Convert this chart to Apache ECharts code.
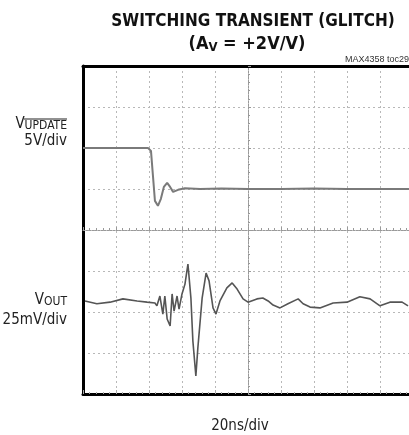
<!DOCTYPE html>
<html>
<head>
<meta charset="utf-8">
<script src="https://cdn.jsdelivr.net/npm/echarts@6/dist/echarts.min.js"></script>
<style>
html,body{margin:0;padding:0;background:#fff;}
#chart{width:409px;height:435px;}
</style>
</head>
<body>
<div id="chart"></div>
<script>
// time in divisions (20ns/div), amplitude in divisions
var vupdateT = [0, 1.97, 2.06, 2.12, 2.18, 2.27, 2.36, 2.45, 2.55, 2.64, 2.73, 2.88, 3.09, 3.55, 4.2, 5.0, 6.0, 7.0, 8.0, 9.0, 10.0];
var vupdateV = [2.0, 2.0, 1.93, 1.32, 0.71, 0.59, 0.76, 1.05, 1.15, 1.05, 0.93, 0.98, 1.02, 1.0, 1.01, 1.0, 1.0, 1.01, 1.0, 1.0, 1.0];

var voutT = [0.06, 0.42, 0.82, 1.21, 1.64, 1.94, 2.18, 2.24, 2.33, 2.42, 2.48, 2.55, 2.64, 2.70, 2.76, 2.85, 2.91, 3.00, 3.09, 3.18, 3.27, 3.33, 3.42, 3.48, 3.61, 3.73, 3.82, 3.94, 4.03, 4.15, 4.36, 4.52, 4.67, 4.85, 5.00, 5.27, 5.45, 5.61, 5.76, 5.97, 6.21, 6.52, 6.67, 6.88, 7.18, 7.58, 8.00, 8.39, 8.70, 9.00, 9.30, 9.67, 9.85];
var voutV = [-1.73, -1.80, -1.76, -1.68, -1.73, -1.76, -1.78, -1.85, -1.61, -2.05, -1.61, -2.17, -2.34, -1.56, -1.98, -1.61, -1.93, -1.56, -1.32, -0.83, -1.66, -2.71, -3.56, -2.88, -1.66, -1.05, -1.24, -1.90, -2.05, -1.73, -1.41, -1.29, -1.44, -1.68, -1.76, -1.68, -1.66, -1.73, -1.83, -1.90, -1.80, -1.68, -1.80, -1.88, -1.90, -1.78, -1.76, -1.63, -1.68, -1.85, -1.76, -1.76, -1.85];

var titleLine1 = 'SWITCHING TRANSIENT (GLITCH)';
var tocLabel = 'MAX4358 toc29';
var xLabel = '20ns/div';
var ch1Scale = '5V/div';
var ch2Scale = '25mV/div';

function pairs(t, v){ return t.map(function(x,i){ return [x, v[i]]; }); }

var narrow = "'Liberation Sans Narrow', 'DejaVu Sans Condensed', 'Liberation Sans', sans-serif";
var chart = echarts.init(document.getElementById('chart'), null, {renderer:'canvas'});
var gridDots = {type:[2,3], color:'#b8b8b8', width:1};
var frame = {show:true, onZero:false, lineStyle:{color:'#000', width:3}};

chart.setOption({
  animation:false,
  title:[
    {text:titleLine1, left:248, top:8, textAlign:'center',
     textStyle:{fontFamily:narrow, fontWeight:'bold', fontSize:17, color:'#111'}},
    {text:'(A{s|V} = +2V/V)', left:242, top:29, textAlign:'center',
     textStyle:{fontFamily:narrow, fontWeight:'bold', fontSize:18, color:'#111',
       rich:{s:{fontFamily:narrow, fontWeight:'bold', fontSize:13, padding:[7,0,0,0], color:'#111'}}}}
  ],
  grid:{left:83, top:66, right:-4, bottom:41, show:false, containLabel:false, outerBoundsMode:'none'},
  xAxis:[
    {type:'value', min:0, max:10, interval:1,
     axisLine:{show:true, onZero:true, lineStyle:{color:'#999', width:1, type:[2,1]}},
     axisTick:{show:true, inside:true, length:3, lineStyle:{color:'#999'}},
     minorTick:{show:true, splitNumber:5, length:2, lineStyle:{color:'#999'}},
     axisLabel:{show:false},
     splitLine:{show:true, lineStyle:gridDots}},
    {type:'value', min:0, max:10, interval:1, position:'bottom',
     axisLine:frame,
     axisTick:{show:true, inside:true, length:4, lineStyle:{color:'#aaa'}},
     minorTick:{show:true, splitNumber:5, length:2, lineStyle:{color:'#aaa'}},
     axisLabel:{show:false}, splitLine:{show:false}},
    {type:'value', min:0, max:10, interval:1, position:'top',
     axisLine:frame, axisTick:{show:false}, axisLabel:{show:false}, splitLine:{show:false}}
  ],
  yAxis:[
    {type:'value', min:-4, max:4, interval:1, offset:-165,
     axisLine:{show:true, onZero:false, lineStyle:{color:'#999', width:1, type:[2,1]}},
     axisTick:{show:true, inside:true, length:3, lineStyle:{color:'#999'}},
     minorTick:{show:true, splitNumber:5, length:2, lineStyle:{color:'#999'}},
     axisLabel:{show:false},
     splitLine:{show:true, lineStyle:gridDots}},
    {type:'value', min:-4, max:4, interval:1, position:'left',
     axisLine:frame, axisTick:{show:false}, axisLabel:{show:false}, splitLine:{show:false}}
  ],
  series:[
    {type:'line', name:'VUPDATE', data:pairs(vupdateT, vupdateV), symbol:'none', xAxisIndex:0, yAxisIndex:0,
     lineStyle:{color:'#7a7a7a', width:2}, z:5},
    {type:'line', name:'VOUT', data:pairs(voutT, voutV), symbol:'none', xAxisIndex:0, yAxisIndex:0,
     lineStyle:{color:'#555', width:1.6}, z:6}
  ],
  graphic:[
    {type:'text', x:345, y:60, style:{text:tocLabel, font:"9px 'Liberation Sans', sans-serif", fill:'#333', textVerticalAlign:'middle'}},
    {type:'text', x:67, y:124, style:{text:'V{s|UPDATE}', font:"15px "+narrow, fill:'#222', textAlign:'right', textVerticalAlign:'middle',
      rich:{s:{font:"12px "+narrow, fill:'#222', padding:[4,0,0,0]}}}},
    {type:'line', shape:{x1:24, y1:119, x2:67, y2:119}, style:{stroke:'#222', lineWidth:1}},
    {type:'text', x:67, y:141, style:{text:ch1Scale, font:"15px "+narrow, fill:'#222', textAlign:'right', textVerticalAlign:'middle'}},
    {type:'text', x:67, y:300, style:{text:'V{s|OUT}', font:"15px "+narrow, fill:'#222', textAlign:'right', textVerticalAlign:'middle',
      rich:{s:{font:"12px "+narrow, fill:'#222', padding:[4,0,0,0]}}}},
    {type:'text', x:67, y:320, style:{text:ch2Scale, font:"15px "+narrow, fill:'#222', textAlign:'right', textVerticalAlign:'middle'}},
    {type:'text', x:240, y:426, style:{text:xLabel, font:"15px "+narrow, fill:'#222', textAlign:'center', textVerticalAlign:'middle'}}
  ]
});
</script>
</body>
</html>
